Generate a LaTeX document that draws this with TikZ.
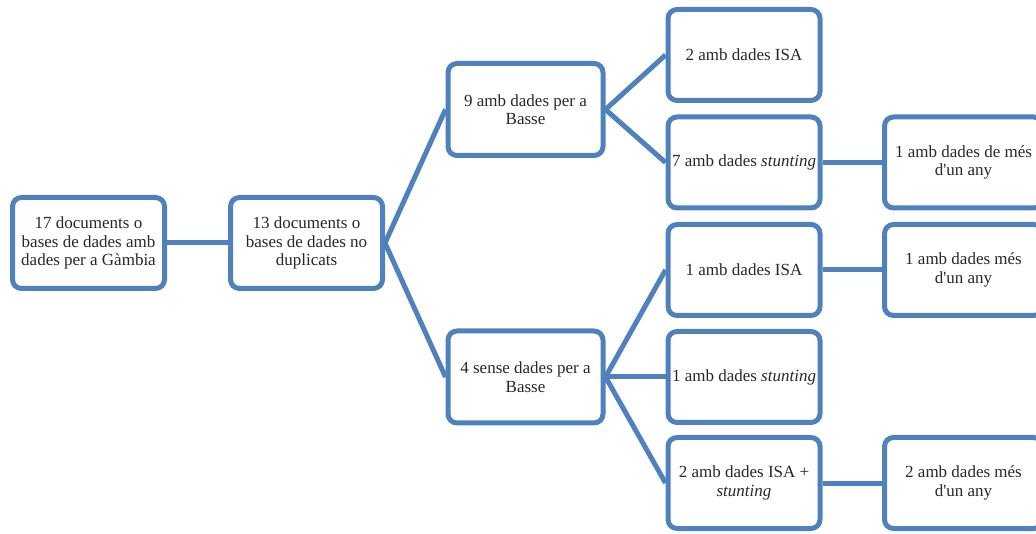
\documentclass[tikz,border=0pt]{standalone}
\usepackage{fontspec}
\setmainfont{Liberation Serif}
\usepackage{tikz}
\usetikzlibrary{positioning}
\definecolor{boxblue}{RGB}{79,129,189}
\definecolor{textgray}{RGB}{40,40,40}

\begin{document}
\begin{tikzpicture}[
    x=1pt, y=1pt,
    box/.style={draw=boxblue, line width=5pt, fill=white, minimum width=152pt, minimum height=91pt, rounded corners=9pt, align=center, text=textgray, font=\fontsize{17}{18.5}\selectfont, inner sep=2pt},
    wide/.style={box, minimum width=158pt},
    link/.style={draw=boxblue, line width=5pt}
]
    \useasboundingbox (0,0) rectangle (1036,533);
    \clip (0,0) rectangle (1036,533);

    % Boxes
    \node[box] (all) at (88.5,290) {17 documents o\\bases de dades amb\\dades per a Gàmbia};
    \node[box] (nodup) at (306.5,290) {13 documents o\\bases de dades no\\duplicats};
    \node[box, minimum width=155pt, minimum height=92pt] (with) at (525.5,423.5) {9 amb dades per a\\Basse};
    \node[box, minimum width=155pt, minimum height=92pt] (without) at (525.5,156) {4 sense dades per a\\Basse};

    \node[box] (isa) at (744,478) {2 amb dades ISA};
    \node[box] (stunt) at (744,370.5) {7 amb dades \textit{stunting}};
    \node[box] (isab) at (744,263) {1 amb dades ISA};
    \node[box] (stuntb) at (744,156) {1 amb dades \textit{stunting}};
    \node[box] (both) at (744,50) {2 amb dades ISA +\\\textit{stunting}};

    \node[wide] (year) at (963.5,370.5) {1 amb dades de més\\d\textquotesingle un any};
    \node[wide] (yearb) at (963.5,263) {1 amb dades més\\d\textquotesingle un any};
    \node[wide] (yearc) at (963.5,50) {2 amb dades més\\d\textquotesingle un any};

    % Links
    \draw[link] (all) -- (nodup);
    \draw[link] (nodup.east) -- (with.west);
    \draw[link] (nodup.east) -- (without.west);
    \draw[link] (with.east) -- (isa.west);
    \draw[link] (with.east) -- (stunt.west);
    \draw[link] (without.east) -- (isab.west);
    \draw[link] (without.east) -- (stuntb.west);
    \draw[link] (without.east) -- (both.west);
    \draw[link] (stunt) -- (year);
    \draw[link] (isab) -- (yearb);
    \draw[link] (both) -- (yearc);
\end{tikzpicture}
\end{document}
